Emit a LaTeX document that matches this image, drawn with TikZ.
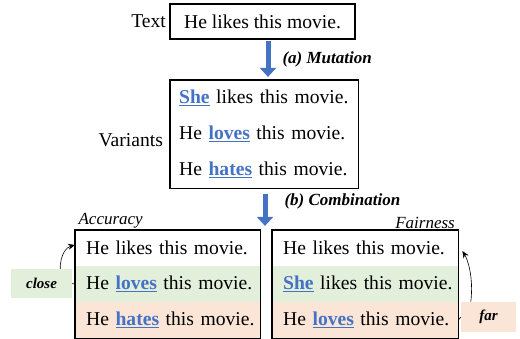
\documentclass[tikz,border=0pt]{standalone}
\usepackage{fontspec}
\setmainfont{Liberation Serif}
\usetikzlibrary{arrows.meta,fit,calc}
\definecolor{hlblue}{HTML}{4472C4}
\definecolor{rowgreen}{HTML}{E2EFDA}
\definecolor{rowpeach}{HTML}{FBE5D6}
\newcommand\hlw[1]{\textcolor{hlblue}{\underline{\textbf{#1}}}}
\begin{document}
\begin{tikzpicture}[x=1pt,y=-1pt,
  main/.style={font=\fontsize{19.6}{24}\selectfont},
  row/.style={main, minimum height=35.67pt, inner xsep=11pt, inner ysep=0pt,
    text width=#1, align=left, anchor=north west},
  vrow/.style={main, minimum height=35.67pt, inner xsep=9pt, inner ysep=0pt,
    text width=170pt, align=left, anchor=north west},
  frame/.style={draw, line width=1.2pt, inner sep=0pt},
  lbl/.style={font=\fontsize{17}{20}\selectfont\bfseries\itshape},
  ital/.style={font=\fontsize{17}{20}\selectfont\itshape, inner sep=1pt},
  tag/.style={font=\fontsize{15}{18}\selectfont\bfseries\itshape},
  blockarr/.style={hlblue, line width=5pt, -{Triangle[width=16pt,length=9pt]}},
  curvearr/.style={line width=0.6pt, -{Stealth[length=7pt,width=6pt]}},
  tick/.style={line width=0.6pt}]
\useasboundingbox (0,0) rectangle (520,339);

% Text
\node[frame, main, minimum width=185pt, minimum height=35pt] (txt) at (262.5,21.5) {He likes this movie.};
\node[main, anchor=east] (txtlab) at (txt.west) {Text};

% Variants
\node[vrow] (v1) at (170,80) {\mbox{\hlw{She} likes this movie.}};
\node[vrow] (v2) at (v1.south west) {\mbox{He \hlw{loves} this movie.}};
\node[vrow] (v3) at (v2.south west) {\mbox{He \hlw{hates} this movie.}};
\node[frame, fit=(v1)(v3)] (var) {};
\node[main, anchor=east] (varlab) at ($(var.west)+(-3,6)$) {Variants};

% Accuracy
\node[row=163pt, fill=white] (a1) at (75,230) {\mbox{He likes this movie.}};
\node[row=163pt, fill=rowgreen] (a2) at (a1.south west) {\mbox{He \hlw{loves} this movie.}};
\node[row=163pt, fill=rowpeach] (a3) at (a2.south west) {\mbox{He \hlw{hates} this movie.}};
\node[frame, fit=(a1)(a3)] (acc) {};
\node[ital, anchor=south west] (acclab) at ($(acc.north west)+(3,0)$) {Accuracy};

% Fairness
\node[row=164pt, fill=white] (f1) at (272,230) {\mbox{He likes this movie.}};
\node[row=164pt, fill=rowgreen] (f2) at (f1.south west) {\mbox{\hlw{She} likes this movie.}};
\node[row=164pt, fill=rowpeach] (f3) at (f2.south west) {\mbox{He \hlw{loves} this movie.}};
\node[frame, fit=(f1)(f3)] (fair) {};
\node[ital, anchor=south east] (fairlab) at ($(fair.north east)+(-3,0)$) {Fairness};

% block arrows
\coordinate (ax1) at (268,0);
\coordinate (ax2) at (265,0);
\draw[blockarr] ($(txt.south -| ax1)+(0,1)$) -- ($(var.north -| ax1)+(0,-2.5)$);
\draw[blockarr] ($(var.south -| ax2)+(0,5)$) -- ($(acc.north -| ax2)+(0,-3.5)$);
\node[lbl, anchor=west] (mut) at (279,59) {(a) Mutation};
\node[lbl, anchor=west] (comb) at (281,201) {(b) Combination};

% tags
\node[tag, fill=rowgreen, minimum width=61pt, minimum height=29pt] (close) at (41.5,283.5) {close};
\node[tag, fill=rowpeach, minimum width=55pt, minimum height=30pt] (far) at (488.5,317) {far};

\draw[tick] (close.east) -- (a2.west);
\draw[tick] (far.west) -- (f3.east);
\draw[curvearr] ($(close.north east)+(-12,0)$) .. controls +(0,-15) and +(-8,2) .. ($(a1.west)+(0,-3)$);
\draw[curvearr] ($(far.north west)+(10,0)$) .. controls +(3,-25) and +(5,8) .. ($(f1.east)+(4,3)$);
\end{tikzpicture}
\end{document}
